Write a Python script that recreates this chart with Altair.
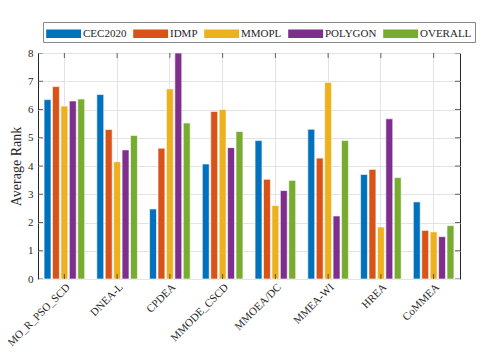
import altair as alt
import pandas as pd

algorithms = ["MO_R_PSO_SCD", "DNEA-L", "CPDEA", "MMODE_CSCD", "MMOEA/DC", "MMEA-WI", "HREA", "CoMMEA"]
series = ["CEC2020", "IDMP", "MMOPL", "POLYGON", "OVERALL"]
colors = ["#0072BD", "#D95319", "#EDB120", "#7E2F8E", "#77AC30"]
y_ticks = [0, 1, 2, 3, 4, 5, 6, 7, 8]

cec2020 = [6.35, 6.53, 2.48, 4.07, 4.90, 5.30, 3.70, 2.73]
idmp = [6.81, 5.29, 4.63, 5.93, 3.53, 4.28, 3.88, 1.72]
mmopl = [6.12, 4.15, 6.73, 6.00, 2.60, 6.96, 1.84, 1.67]
polygon = [6.30, 4.57, 8.00, 4.65, 3.13, 2.23, 5.67, 1.50]
overall = [6.37, 5.08, 5.52, 5.22, 3.49, 4.90, 3.59, 1.89]

values = [cec2020, idmp, mmopl, polygon, overall]
rows = []
for s, vals in zip(series, values):
    for a, v in zip(algorithms, vals):
        rows.append({"Algorithm": a, "Set": s, "Rank": v})
df = pd.DataFrame(rows)
df_xt = pd.DataFrame({"Algorithm": algorithms * 2,
                      "Rank": [y_ticks[0]] * len(algorithms) + [y_ticks[-1]] * len(algorithms)})
df_yt = pd.DataFrame({"Rank": y_ticks})

FONT = "Liberation Serif"
INK = "#262626"

y_scale = alt.Scale(domain=[0, 8], nice=False)
x_scale = alt.Scale(domain=algorithms, paddingInner=0.23, paddingOuter=0.115)
x_axis = alt.Axis(labelAngle=-45, labelFontSize=11, labelFont=FONT,
                  labelColor=INK, grid=True, gridColor="#e3e3e3",
                  tickSize=0, domain=False, labelPadding=2)
y_axis = alt.Axis(values=y_ticks, labelFontSize=11, labelFont=FONT,
                  labelColor=INK, titleFont=FONT, titleFontSize=14,
                  titleFontWeight="normal", titleColor=INK,
                  grid=True, gridColor="#e3e3e3", tickSize=0,
                  domain=False, labelPadding=5, titlePadding=4)

def xenc():
    return alt.X("Algorithm:N", sort=algorithms, title=None, scale=x_scale, axis=x_axis)

def yenc():
    return alt.Y("Rank:Q", title="Average Rank", scale=y_scale, axis=y_axis)

bars = alt.Chart(df).mark_bar(stroke="white", strokeWidth=0.6).encode(
    x=xenc(),
    xOffset=alt.XOffset("Set:N", sort=series, scale=alt.Scale(paddingInner=0.18)),
    y=yenc(),
    color=alt.Color("Set:N", sort=series,
                    scale=alt.Scale(domain=series, range=colors),
                    legend=alt.Legend(orient="none", legendX=5, legendY=-31,
                                      direction="horizontal", columns=5, title=None,
                                      symbolType="M-1,-0.5H3.2V0.5H-1Z",
                                      symbolSize=276, symbolStrokeWidth=0,
                                      labelOffset=20, columnPadding=6,
                                      labelFont=FONT, labelFontSize=11,
                                      labelColor=INK,
                                      strokeColor="#888888", fillColor="white",
                                      padding=3)),
)

# inward tick marks (clipped to the plot frame)
xt = alt.Chart(df_xt).mark_tick(color=INK, size=10, thickness=1, clip=True,
                                orient="vertical").encode(x=xenc(), y=yenc())
yt_l = alt.Chart(df_yt).mark_tick(color=INK, size=10, thickness=1, clip=True,
                                  orient="horizontal").encode(x=alt.value(0), y=yenc())
yt_r = alt.Chart(df_yt).mark_tick(color=INK, size=10, thickness=1, clip=True,
                                  orient="horizontal").encode(x=alt.value({"expr": "width"}), y=yenc())

chart = alt.layer(bars, xt, yt_l, yt_r).properties(
    width=469, height=340,
    autosize=alt.AutoSizeParams(type="fit", contains="padding"),
    padding={"left": 0, "top": 39, "right": 17, "bottom": 0},
).configure_view(
    stroke=INK, strokeWidth=1
)

chart.save("out.html", embed_options={"renderer": "svg", "actions": False})
